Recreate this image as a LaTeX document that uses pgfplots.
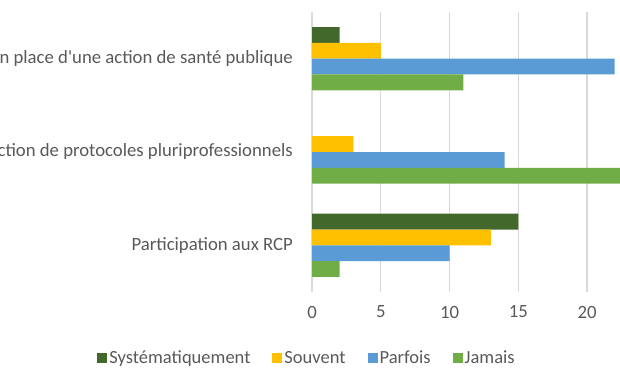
\documentclass[border=0pt]{standalone}
\usepackage{fontspec}
\setmainfont{Carlito}
\usepackage{pgfplots}
\pgfplotsset{compat=1.18}
\definecolor{cSyst}{HTML}{43682B}
\definecolor{cSouv}{HTML}{FFC000}
\definecolor{cParf}{HTML}{5B9BD5}
\definecolor{cJam}{HTML}{70AD47}
\definecolor{cText}{HTML}{595959}
\definecolor{cGrid}{HTML}{D9D9D9}
\begin{document}
\begin{tikzpicture}[x=1bp,y=1bp]
\useasboundingbox (0,0) rectangle (620,380);
\clip (0,0) rectangle (620,380);
\begin{axis}[
  at={(312bp,88bp)}, anchor=south west,
  scale only axis, width=343.75bp, height=280bp,
  xmin=0, xmax=25, ymin=-0.5, ymax=2.5,
  xbar, bar width=15.8bp,
  ytick={0,1,2},
  yticklabels={Participation aux RCP, Rédaction de protocoles pluriprofessionnels, Mise en place d\textquotesingle une action de santé publique},
  xtick={0,5,10,15,20},
  extra x ticks={25}, extra x tick labels={},
  xmajorgrids, grid style={draw=cGrid, line width=1.2bp},
  axis line style={draw=none},
  major tick length=0pt,
  tick style={draw=none},
  /pgf/number format/assume math mode=true,
  ticklabel style={font=\fontsize{18.8}{22}\selectfont, text=cText, inner sep=0pt},
  yticklabel style={anchor=east, xshift=-19bp},
  xticklabel style={anchor=center, yshift=-20bp},
  legend columns=4,
  legend style={draw=none, fill=none, font=\fontsize{18.6}{22}\selectfont, text=cText,
    at={(axis description cs:-0.0145,-0.236)}, anchor=center,
    /tikz/every even column/.append style={column sep=20bp}},
  legend image code/.code={\fill[#1] (0bp,-5bp) rectangle (10bp,5bp);},
]
\addplot[fill=cSyst, draw=none, bar shift=23.7bp] coordinates {(2,2) (15,0)};
\addplot[fill=cSouv, draw=none, bar shift=7.9bp] coordinates {(5,2) (3,1) (13,0)};
\addplot[fill=cParf, draw=none, bar shift=-7.9bp] coordinates {(22,2) (14,1) (10,0)};
\addplot[fill=cJam, draw=none, bar shift=-23.7bp] coordinates {(11,2) (23,1) (2,0)};
\legend{Systématiquement, Souvent, Parfois, Jamais}
\end{axis}
\end{tikzpicture}
\end{document}
